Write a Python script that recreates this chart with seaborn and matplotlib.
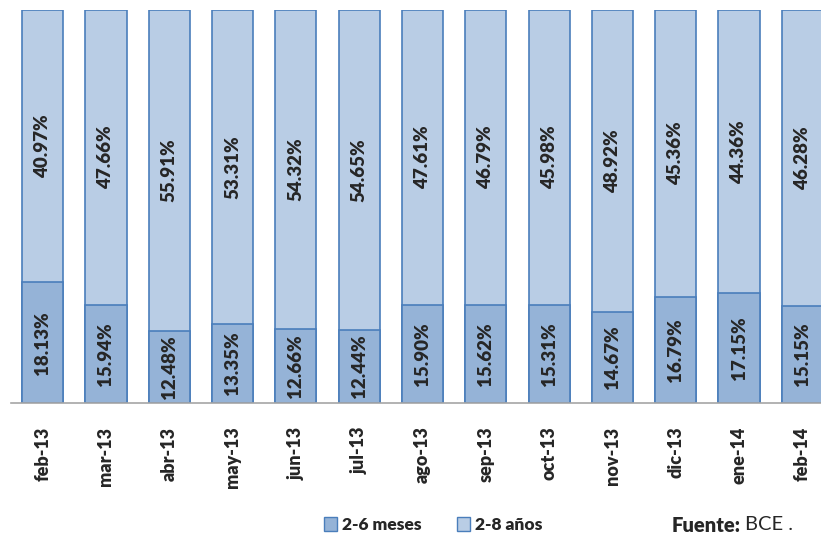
import numpy as np
import pandas as pd
import matplotlib
matplotlib.use('Agg')
import matplotlib.pyplot as plt
import seaborn as sns
from matplotlib.patches import Patch

meses = ['feb-13', 'mar-13', 'abr-13', 'may-13', 'jun-13', 'jul-13', 'ago-13',
         'sep-13', 'oct-13', 'nov-13', 'dic-13', 'ene-14', 'feb-14']
corto = [18.13, 15.94, 12.48, 13.35, 12.66, 12.44, 15.90, 15.62, 15.31, 14.67, 16.79, 17.15, 15.15]
largo = [40.97, 47.66, 55.91, 53.31, 54.32, 54.65, 47.61, 46.79, 45.98, 48.92, 45.36, 44.36, 46.28]

c_dark = '#95B3D7'
c_light = '#B9CDE5'
c_edge = '#4A7EBB'

sns.set_style('white')
plt.rcParams['font.family'] = ['Lato', 'DejaVu Sans']

df = pd.DataFrame({'mes': meses, 'corto': corto, 'largo': largo})
df['total'] = df['corto'] + df['largo']
df['s_corto'] = df['corto'] / df['total']
df['s_total'] = 1.0

fig = plt.figure(figsize=(8.21, 5.46), dpi=100)
ax = fig.add_axes([11 / 821, 1 - 403 / 546, 823 / 821, 393 / 546])

sns.barplot(data=df, x='mes', y='s_total', color=c_light, width=0.65,
            edgecolor=c_edge, linewidth=1.2, saturation=1, ax=ax)
sns.barplot(data=df, x='mes', y='s_corto', color=c_dark, width=0.65,
            edgecolor=c_edge, linewidth=1.2, saturation=1, ax=ax)

for i, row in df.iterrows():
    ax.text(i, row['s_corto'] / 2, f"{row['corto']:.2f}%", rotation=90,
            ha='center', va='center', fontsize=13.5, fontweight='heavy')
    ax.text(i, (1 + row['s_corto']) / 2, f"{row['largo']:.2f}%", rotation=90,
            ha='center', va='center', fontsize=13.5, fontweight='heavy')

ax.set_xlim(-0.5, 12.5)
ax.set_ylim(0, 1)
ax.set_xlabel('')
ax.set_ylabel('')
ax.set_yticks([])
ax.tick_params(axis='x', length=0, pad=17)
plt.setp(ax.get_xticklabels(), rotation=90, fontsize=13, fontweight='heavy')
for s in ['top', 'right', 'left']:
    ax.spines[s].set_visible(False)
ax.spines['bottom'].set_color('#A6A6A6')
ax.spines['bottom'].set_linewidth(1.2)

handles = [Patch(facecolor=c_dark, edgecolor=c_edge, label='2-6 meses'),
           Patch(facecolor=c_light, edgecolor=c_edge, label='2-8 años')]
leg = fig.legend(handles=handles, loc='center left', bbox_to_anchor=(324 / 821, 1 - 525 / 546),
                 ncol=2, frameon=False, handlelength=0.75, handleheight=0.9,
                 handletextpad=0.3, columnspacing=2.0, borderpad=0, borderaxespad=0,
                 prop={'weight': 'heavy', 'size': 12.5})

fig.text(672 / 821, 1 - 525 / 546, 'Fuente:', fontsize=14.5, fontweight='heavy', va='center')
fig.text(745 / 821, 1 - 525 / 546, 'BCE .', fontsize=14.5, va='center')

fig.savefig('out.png', dpi=100)
